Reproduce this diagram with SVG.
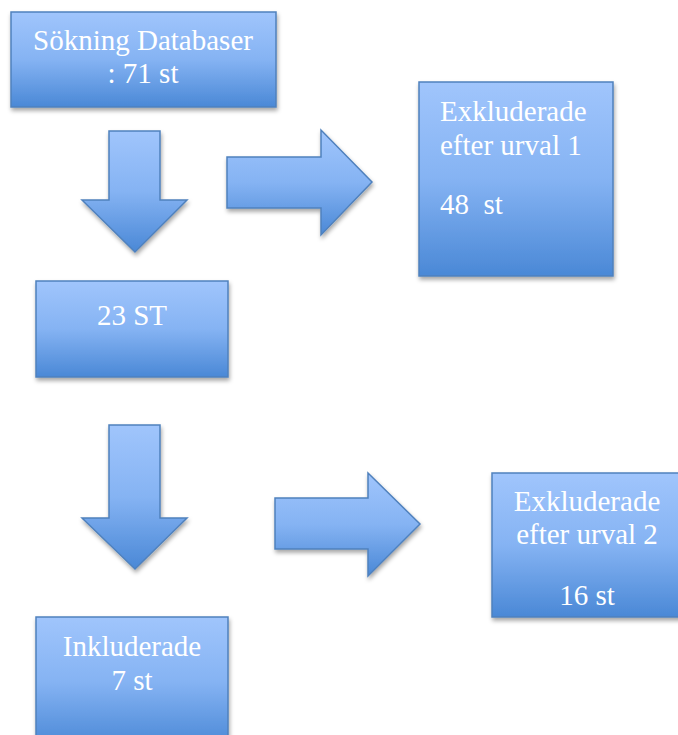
<svg xmlns="http://www.w3.org/2000/svg" width="678" height="735" viewBox="0 0 678 735">
<defs>
<linearGradient id="g" x1="0" y1="0" x2="0" y2="1">
<stop offset="0" stop-color="#a0c5fc"/>
<stop offset="0.5" stop-color="#85b3f3"/>
<stop offset="1" stop-color="#4a88d6"/>
</linearGradient>
<filter id="sh" x="-10%" y="-10%" width="130%" height="130%">
<feDropShadow dx="1" dy="3" stdDeviation="2" flood-color="#000" flood-opacity="0.35"/>
</filter>
<style>
.s{fill:url(#g);stroke:#4f81bd;stroke-width:1.5;filter:url(#sh)}
.t{font-size:29px;fill:#fff;white-space:pre}
.c{text-anchor:middle}
</style>
</defs>
<g font-family="'Liberation Serif', 'DejaVu Serif', serif">
<g id="n1"><rect class="s" x="11" y="12" width="265" height="95"/>
<text class="t c" x="143" y="50">Sökning Databaser</text>
<text class="t c" x="143" y="83">: 71 st</text></g>
<g id="n2"><rect class="s" x="419" y="82" width="194" height="194"/>
<text class="t" x="440" y="121">Exkluderade</text>
<text class="t" x="440" y="155">efter urval 1</text>
<text class="t" x="440" y="214" xml:space="preserve">48  st</text></g>
<g id="n3"><rect class="s" x="36" y="281" width="192" height="96"/>
<text class="t c" x="132" y="325">23 ST</text></g>
<g id="n4"><rect class="s" x="492" y="473" width="200" height="144"/>
<text class="t c" x="587" y="511">Exkluderade</text>
<text class="t c" x="587" y="544">efter urval 2</text>
<text class="t c" x="587" y="605">16 st</text></g>
<g id="n5"><rect class="s" x="36" y="617" width="192" height="130"/>
<text class="t c" x="132" y="656">Inkluderade</text>
<text class="t c" x="132" y="690">7 st</text></g>
</g>
<g id="connectors">
<polygon class="s" points="109,131 160,131 160,200 187,200 135,252 82,200 109,200"/>
<polygon class="s" points="227,157 321,157 321,130 372,182 321,235 321,208 227,208"/>
<polygon class="s" points="109,425 160,425 160,518 187,518 135,569 82,518 109,518"/>
<polygon class="s" points="275,498 368,498 368,473 420,524 368,576 368,549 275,549"/>
</g>
</svg>
